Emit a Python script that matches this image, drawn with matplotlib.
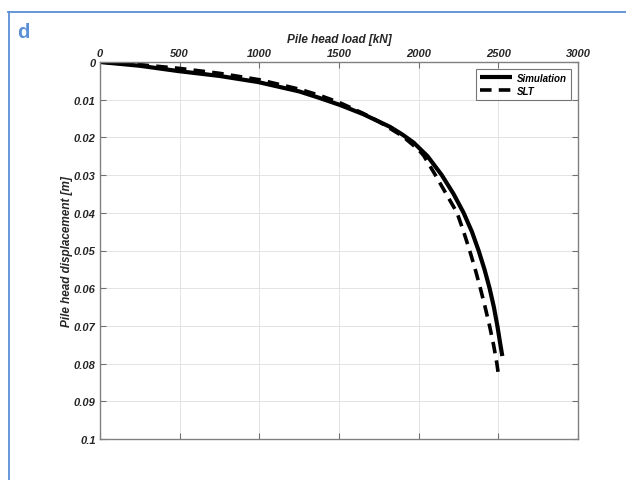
import matplotlib
matplotlib.use("Agg")
import matplotlib.pyplot as plt
from matplotlib.lines import Line2D
from matplotlib.ticker import FuncFormatter

# Data
sim_load = [0, 250, 490, 750, 990, 1250, 1375, 1506, 1650, 1820, 1900, 1969, 2056, 2145,
            2219, 2282, 2334, 2376, 2413, 2445, 2472, 2494, 2511, 2525]
sim_disp = [0, 0.0010, 0.0024, 0.0037, 0.0053, 0.0078, 0.0095, 0.0114, 0.0138, 0.0172, 0.0193, 0.0214,
            0.0250, 0.030, 0.035, 0.040, 0.045, 0.050, 0.055, 0.060, 0.065, 0.070, 0.0745, 0.078]

slt_load = [0, 250, 500, 750, 1000, 1250, 1375, 1500, 1650, 1750, 1900, 2000, 2031, 2105,
            2173, 2241, 2282, 2320, 2355, 2387, 2417, 2445, 2470, 2491, 2503]
slt_disp = [0, 0.0007, 0.0017, 0.0030, 0.0047, 0.0072, 0.0088, 0.0107, 0.0136, 0.0158, 0.0197, 0.0233,
            0.0248, 0.030, 0.035, 0.040, 0.045, 0.050, 0.055, 0.060, 0.065, 0.070, 0.075, 0.080, 0.0837]

x_ticks = [0, 500, 1000, 1500, 2000, 2500, 3000]
y_ticks = [0, 0.01, 0.02, 0.03, 0.04, 0.05, 0.06, 0.07, 0.08, 0.09, 0.1]

plt.rcParams['font.family'] = ['Liberation Sans', 'DejaVu Sans']

fig = plt.figure(figsize=(6.26, 4.81), dpi=100)
fig.patch.set_facecolor('white')

# blue frame of the panel
blue = '#5b8fd6'
fig.add_artist(Line2D([8/626, 1.0], [1 - 13/481, 1 - 13/481], color=blue, lw=1.3, transform=fig.transFigure))
fig.add_artist(Line2D([9/626, 9/626], [1 - 13/481, 0], color=blue, lw=1.3, transform=fig.transFigure))
fig.text(17/626, 1 - 32/481, 'd', color=blue, fontsize=14.5, fontweight='bold', ha='left', va='center')

ax = fig.add_axes([100/626, 1 - 440/481, 478/626, 377/481])

ax.plot(sim_load, sim_disp, color='black', lw=3.0, label='Simulation', solid_capstyle='butt',
        solid_joinstyle='round')
ax.plot(slt_load, slt_disp, color='black', lw=2.6, dashes=(3.2, 2.0), label='SLT', dash_capstyle='butt')

ax.set_xlim(0, 3000)
ax.set_ylim(0.1, 0)
ax.set_xticks(x_ticks)
ax.set_yticks(y_ticks)
ax.xaxis.set_major_formatter(FuncFormatter(lambda v, p: '%g' % v))
ax.yaxis.set_major_formatter(FuncFormatter(lambda v, p: '%g' % round(v, 3)))

ax.xaxis.set_label_position('top')
ax.xaxis.tick_top()
ax.tick_params(axis='both', which='both', direction='in', length=4, width=0.8, color='#707070',
               top=True, bottom=True, left=True, right=True, labeltop=True, labelbottom=False,
               labelsize=8, pad=3)
for lab in ax.get_xticklabels() + ax.get_yticklabels():
    lab.set_fontweight('bold')
    lab.set_fontstyle('italic')
    lab.set_color('#262626')

ax.set_xlabel('Pile head load [kN]', fontsize=8.5, fontweight='bold', fontstyle='italic', color='#262626', labelpad=4)
ax.set_ylabel('Pile head displacement [m]', fontsize=8.5, fontweight='bold', fontstyle='italic', color='#262626', labelpad=1)

ax.grid(True, color='#e3e3e3', lw=0.7)
ax.set_axisbelow(True)
for s in ax.spines.values():
    s.set_color('#808080')
    s.set_linewidth(1.0)

leg = ax.legend(loc='upper right', fontsize=7, frameon=True, fancybox=False, handlelength=3.3,
                borderpad=0.4, labelspacing=0.3, handletextpad=0.5, borderaxespad=0.7)
leg.get_frame().set_edgecolor('#555555')
leg.get_frame().set_linewidth(0.8)
for t in leg.get_texts():
    t.set_fontweight('bold')
    t.set_fontstyle('italic')

fig.savefig('out.png', dpi=100)
